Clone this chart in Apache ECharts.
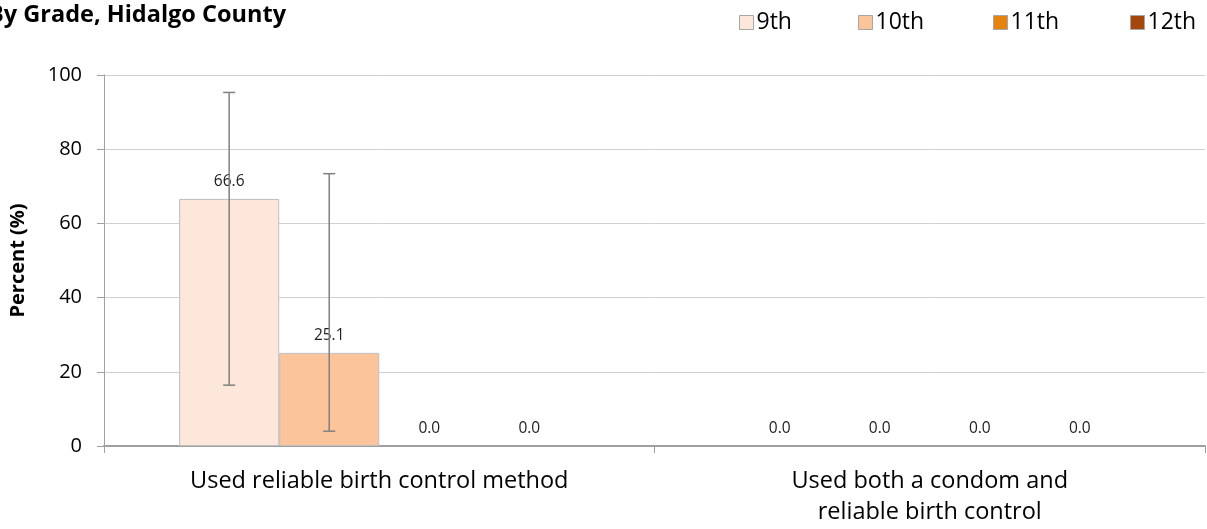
<!DOCTYPE html>
<html><head><meta charset="utf-8">
<script src="https://cdn.jsdelivr.net/npm/echarts@6/dist/echarts.min.js"></script>
<style>html,body{margin:0;padding:0;background:#fff}#c{width:1207px;height:529px}</style>
</head><body><div id="c"></div>
<script>
const categories = ['Used reliable birth control method', 'Used both a condom and\nreliable birth control'];
const grades = ['9th', '10th', '11th', '12th'];
const v9 = [66.6, 0.0];
const v10 = [25.1, 0.0];
const v11 = [0.0, 0.0];
const v12 = [0.0, 0.0];
const lo9 = [16.4, null], hi9 = [95.3, null];
const lo10 = [4.0, null], hi10 = [73.4, null];
const yTicks = [0, 20, 40, 60, 80, 100];

const colors = ['#FDE6DA', '#FBC49A', '#E6820E', '#A5470A'];
const values = [v9, v10, v11, v12];
const errLo = [lo9, lo10, null, null];
const errHi = [hi9, hi10, null, null];
const FONT = '"Open Sans", "Noto Sans", sans-serif';
const catGap = 0.273;

const chart = echarts.init(document.getElementById('c'), null, {renderer: 'canvas'});

const series = values.map((vals, i) => ({
  name: grades[i], type: 'bar', barGap: '0%', barCategoryGap: (catGap * 100) + '%',
  data: vals.map(v => ({value: v, itemStyle: v === 0 ? {borderWidth: 0} : {}})),
  itemStyle: {color: colors[i], borderColor: '#BFBFBF', borderWidth: 1},
  label: {show: true, position: 'top', distance: 9, formatter: p => p.value.toFixed(1),
    fontFamily: FONT, fontSize: 15.5, color: '#222'},
  emphasis: {disabled: true}
}));

values.forEach((vals, i) => {
  if (!errLo[i]) return;
  const d = [];
  categories.forEach((c, j) => { if (errLo[i][j] != null) d.push([j, errLo[i][j], errHi[i][j]]); });
  series.push({
    type: 'custom', name: 'err' + i, z: 10, silent: true,
    data: d,
    renderItem: function (params, api) {
      const cat = api.value(0);
      const lo = api.coord([cat, api.value(1)]);
      const hi = api.coord([cat, api.value(2)]);
      const cw = api.size([1, 0])[0];
      const bw = cw * (1 - catGap) / 4;
      const x = lo[0] + (i - 1.5) * bw;
      const cap = 6;
      const st = {stroke: '#808080', lineWidth: 1.5};
      return {type: 'group', children: [
        {type: 'line', shape: {x1: x, y1: lo[1], x2: x, y2: hi[1]}, style: st},
        {type: 'line', shape: {x1: x - cap, y1: lo[1], x2: x + cap, y2: lo[1]}, style: st},
        {type: 'line', shape: {x1: x - cap, y1: hi[1], x2: x + cap, y2: hi[1]}, style: st}
      ]};
    }
  });
});

const legendPos = [734, 853, 988, 1125];
const legends = grades.map((g, i) => ({
  data: [g], left: legendPos[i], top: 6, itemWidth: 14, itemHeight: 14, itemGap: 0,
  icon: 'rect', selectedMode: false,
  textStyle: {fontFamily: FONT, fontSize: 23, color: '#000', padding: [0, 0, 0, -2]},
  itemStyle: {borderColor: '#A6A6A6', borderWidth: 1}
}));

chart.setOption({
  animation: false,
  title: {text: 'By Grade, Hidalgo County', left: -17, top: -2,
    textStyle: {fontFamily: FONT, fontSize: 23.5, fontWeight: 'bold', color: '#000'}},
  legend: legends,
  grid: {left: 104, right: 2, top: 75, bottom: 83, containLabel: false},
  xAxis: {type: 'category', data: categories,
    axisLine: {lineStyle: {color: '#A0A0A0', width: 2}},
    axisTick: {show: true, length: 7, lineStyle: {color: '#A0A0A0'}},
    axisLabel: {fontFamily: FONT, fontSize: 23.5, color: '#000', margin: 20, lineHeight: 31}},
  yAxis: {type: 'value', min: yTicks[0], max: yTicks[yTicks.length - 1], interval: 20,
    name: 'Percent (%)', nameLocation: 'middle', nameGap: 76, nameRotate: 90,
    nameTextStyle: {fontFamily: FONT, fontSize: 20, fontWeight: 'bold', color: '#000'},
    axisLine: {show: true, lineStyle: {color: '#A0A0A0'}},
    axisTick: {show: true, length: 7, lineStyle: {color: '#A0A0A0'}},
    axisLabel: {fontFamily: FONT, fontSize: 20, color: '#000', margin: 22},
    splitLine: {lineStyle: {color: '#D0D0D0', width: 1}}},
  series: series
});
</script></body></html>
